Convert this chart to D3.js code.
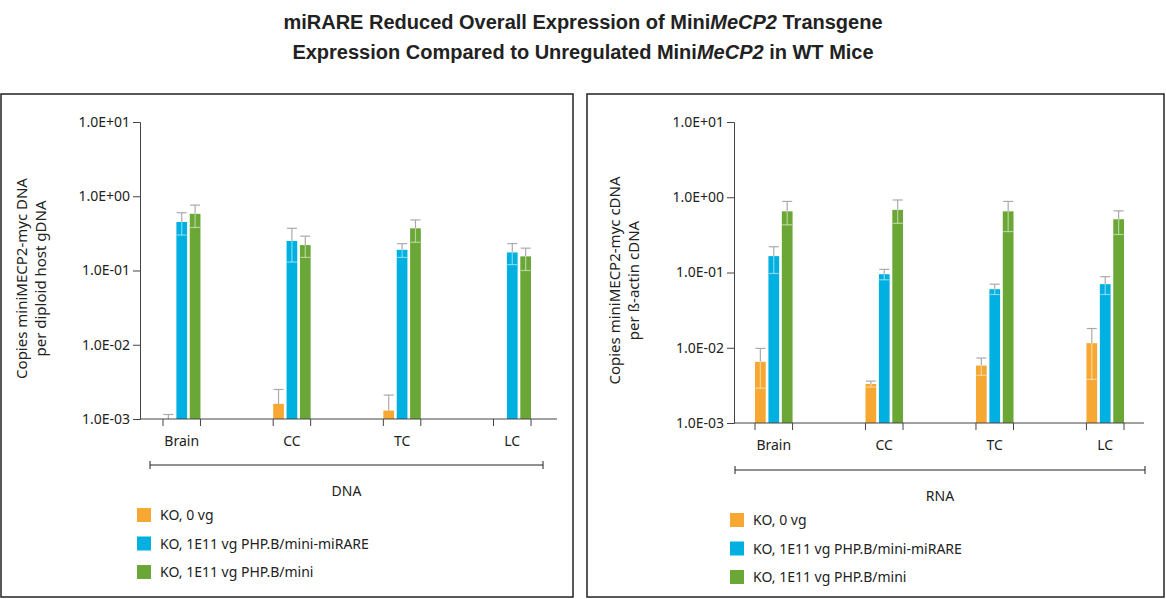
<!DOCTYPE html><html><head><meta charset="utf-8"><script src="https://cdn.jsdelivr.net/npm/d3@7"></script>
<style>body{margin:0;background:#fff}text{font-family:"Noto Sans",sans-serif;fill:#222}</style></head><body>
<svg id="c" width="1166" height="599"></svg>
<script>
const categories=["Brain","CC","TC","LC"];
const series=["KO, 0 vg","KO, 1E11 vg PHP.B/mini-miRARE","KO, 1E11 vg PHP.B/mini"];
const colors=["#F7A833","#00B0E0","#6AA737"];
const yTicks=[1e-3,1e-2,1e-1,1,10];
const yTickLabels=["1.0E-03","1.0E-02","1.0E-01","1.0E+00","1.0E+01"];
// [value, low, high]
const dnaKO=[[0.001,0.001,0.00115],[0.0016,0.001,0.0025],[0.0013,0.001,0.0021],null];
const dnaMiRARE=[[0.45,0.3,0.6],[0.25,0.13,0.37],[0.19,0.15,0.23],[0.175,0.12,0.23]];
const dnaMini=[[0.58,0.38,0.76],[0.22,0.15,0.29],[0.37,0.24,0.48],[0.155,0.1,0.2]];
const rnaKO=[[0.0065,0.0029,0.0098],[0.0033,0.003,0.0036],[0.0058,0.0043,0.0073],[0.0115,0.0038,0.018]];
const rnaMiRARE=[[0.165,0.097,0.22],[0.095,0.08,0.11],[0.06,0.051,0.07],[0.07,0.051,0.088]];
const rnaMini=[[0.65,0.43,0.88],[0.68,0.45,0.92],[0.65,0.35,0.88],[0.51,0.32,0.66]];

const svg=d3.select("#c");
const t=svg.append("text").attr("text-anchor","middle").style("font-family","Liberation Sans, Arial").style("font-weight","bold").style("font-size","20px");
t.append("tspan").attr("x",583).attr("y",29).html('miRARE Reduced Overall Expression of Mini<tspan font-style="italic">MeCP2</tspan> Transgene');
t.append("tspan").attr("x",583).attr("y",59).html('Expression Compared to Unregulated Mini<tspan font-style="italic">MeCP2</tspan> in WT Mice');

function panel(o){
  svg.append("rect").attr("x",o.bx).attr("y",94).attr("width",o.bw).attr("height",503).attr("fill","none").attr("stroke","#222").attr("stroke-width",1.5);
  const y=d3.scaleLog().domain([1e-3,10]).range([o.y0,122]);
  const x=d3.scaleBand().domain(categories).range([o.x0,o.x1]).paddingInner(o.pi).paddingOuter(o.po);
  const xs=d3.scaleBand().domain([0,1,2]).range([0,x.bandwidth()]).paddingInner(0.2);
  const g=svg.append("g");
  const ya=g.append("g").attr("transform",`translate(${o.ax},0)`).call(d3.axisLeft(y).tickValues(yTicks).tickFormat((d,i)=>yTickLabels[i]).tickSize(7));
  ya.selectAll("text").style("font-size","14px").style("font-family","Noto Sans").attr("fill","#222");
  ya.selectAll("line,path").attr("stroke","#444");
  const data=o.data;
  data.forEach((s,si)=>s.forEach((v,ci)=>{
    if(!v)return;
    const bx=x(categories[ci])+xs(si),w=xs.bandwidth(),cx=bx+w/2;
    g.append("rect").attr("x",bx).attr("width",w).attr("y",y(v[0])).attr("height",o.y0-y(v[0])).attr("fill",colors[si]);
    g.append("line").attr("x1",cx).attr("x2",cx).attr("y1",y(v[0])).attr("y2",y(v[2])).attr("stroke","#aaa").attr("stroke-width",1.2);
    g.append("line").attr("x1",cx-5).attr("x2",cx+5).attr("y1",y(v[2])).attr("y2",y(v[2])).attr("stroke","#aaa").attr("stroke-width",1.2);
    if(v[1]<v[0]&&v[1]>1e-3){
      g.append("line").attr("x1",cx).attr("x2",cx).attr("y1",y(v[0])).attr("y2",y(v[1])).attr("stroke","#fff").attr("stroke-opacity",0.5).attr("stroke-width",1.2);
      g.append("line").attr("x1",cx-5).attr("x2",cx+5).attr("y1",y(v[1])).attr("y2",y(v[1])).attr("stroke","#fff").attr("stroke-opacity",0.5).attr("stroke-width",1.2);
    }
  }));
  // x axis
  g.append("line").attr("x1",o.ax).attr("x2",o.xe).attr("y1",o.y0).attr("y2",o.y0).attr("stroke","#444");
  categories.forEach(c=>{
    [x(c),x(c)+x.bandwidth()].forEach(px=>g.append("line").attr("x1",px).attr("x2",px).attr("y1",o.y0).attr("y2",o.y0+7).attr("stroke","#444"));
    g.append("text").attr("x",x(c)+x.bandwidth()/2).attr("y",o.y0+27).attr("text-anchor","middle").style("font-size","14px").text(c);
  });
  g.append("line").attr("x1",o.l0).attr("x2",o.l1).attr("y1",o.by).attr("y2",o.by).attr("stroke","#222");
  [o.l0,o.l1].forEach(px=>g.append("line").attr("x1",px).attr("x2",px).attr("y1",o.by-4).attr("y2",o.by+4).attr("stroke","#222"));
  g.append("text").attr("x",(o.l0+o.l1)/2).attr("y",o.by+31).attr("text-anchor","middle").style("font-size","14px").text(o.name);
  g.append("text").attr("transform",`translate(${o.tx},${(o.y0+122)/2+8}) rotate(-90)`).attr("text-anchor","middle").style("font-size","15px")
    .selectAll("tspan").data(o.ylab).join("tspan").attr("x",0).attr("dy",(d,i)=>i?19:0).text(d=>d);
  series.forEach((s,i)=>{
    g.append("rect").attr("x",o.lx).attr("y",o.ly+i*28.5-7).attr("width",14).attr("height",14).attr("fill",colors[i]);
    g.append("text").attr("x",o.lx+23).attr("y",o.ly+i*28.5+5).style("font-size","14px").text(s);
  });
}
panel({bx:1,bw:572,ax:140,x0:163,x1:531,pi:0.66,po:0,xe:557,y0:419,data:[dnaKO,dnaMiRARE,dnaMini],name:"DNA",l0:150,l1:543,by:465,tx:27,ylab:["Copies miniMECP2-myc DNA","per diploid host gDNA"],lx:137,ly:515});
panel({bx:587,bw:577,ax:734,x0:755,x1:1124,pi:0.66,po:0,xe:1144,y0:423,data:[rnaKO,rnaMiRARE,rnaMini],name:"RNA",l0:735,l1:1145,by:470,tx:620,ylab:["Copies miniMECP2-myc cDNA","per ß-actin cDNA"],lx:730,ly:520});
</script></body></html>
